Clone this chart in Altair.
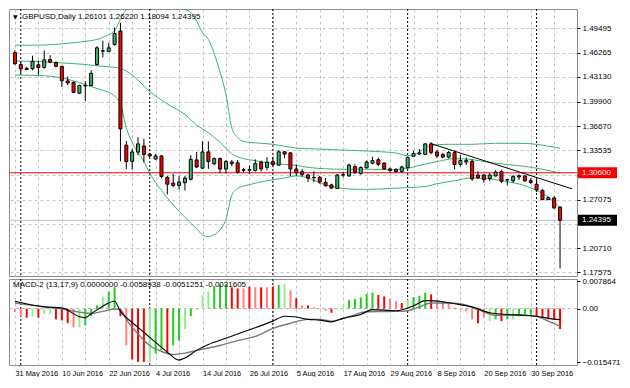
import json
import altair as alt
import pandas as pd

# ---------------- data ----------------
x_labels = ["31 May 2016", "10 Jun 2016", "22 Jun 2016", "4 Jul 2016", "14 Jul 2016",
            "26 Jul 2016", "5 Aug 2016", "17 Aug 2016", "29 Aug 2016", "8 Sep 2016",
            "20 Sep 2016", "30 Sep 2016"]
month_starts = [1, 23, 44, 67, 89]
price_ticks = [1.49495, 1.46265, 1.43130, 1.39900, 1.36670, 1.33535, 1.30305,
               1.27075, 1.23940, 1.20710, 1.17575]
hidden_ticks = [1.30305, 1.23940]

opens = [1.4630, 1.4475, 1.4425, 1.4420, 1.4472, 1.4435, 1.4540, 1.4500, 1.4450, 1.4260,
         1.4240, 1.4100, 1.4195, 1.4200, 1.4475, 1.4650, 1.4645, 1.4737, 1.4912, 1.3420,
         1.3210, 1.3330, 1.3410, 1.3303, 1.3240, 1.3280, 1.3000, 1.2925, 1.2895, 1.2930,
         1.2975, 1.3228, 1.3120, 1.3332, 1.3177, 1.3245, 1.3108, 1.3180, 1.3190, 1.3093,
         1.3100, 1.3090, 1.3196, 1.3130, 1.3205, 1.3160, 1.3335, 1.3320, 1.3110, 1.3075,
         1.3030, 1.3000, 1.3000, 1.2935, 1.2900, 1.2855, 1.3030, 1.3018, 1.3140, 1.3050,
         1.3125, 1.3185, 1.3230, 1.3185, 1.3110, 1.3100, 1.3075, 1.3125, 1.3275, 1.3305,
         1.3300, 1.3437, 1.3332, 1.3300, 1.3265, 1.3325, 1.3170, 1.3200, 1.3210, 1.3030,
         1.3030, 1.2985, 1.3018, 1.3075, 1.2965, 1.2955, 1.3005, 1.3018, 1.2955, 1.2910,
         1.2830, 1.2710, 1.2730, 1.26101]
highs = [1.4660, 1.4505, 1.4440, 1.4590, 1.4525, 1.4660, 1.4597, 1.4515, 1.4460, 1.4316,
         1.4255, 1.4212, 1.4255, 1.4400, 1.4714, 1.4786, 1.4760, 1.4957, 1.5020, 1.3475,
         1.3370, 1.3525, 1.3505, 1.3320, 1.3305, 1.3290, 1.3018, 1.3045, 1.3018, 1.3018,
         1.3290, 1.3332, 1.3470, 1.3470, 1.3260, 1.3260, 1.3227, 1.3227, 1.3227, 1.3125,
         1.3155, 1.3235, 1.3220, 1.3265, 1.3265, 1.3355, 1.3345, 1.3332, 1.3170, 1.3110,
         1.3045, 1.3080, 1.3018, 1.2990, 1.2918, 1.3045, 1.3070, 1.3180, 1.3170, 1.3143,
         1.3220, 1.3270, 1.3257, 1.3200, 1.3130, 1.3120, 1.3150, 1.3275, 1.3345, 1.3370,
         1.3450, 1.3460, 1.3360, 1.3320, 1.3345, 1.3345, 1.3290, 1.3260, 1.3235, 1.3081,
         1.3043, 1.3055, 1.3090, 1.3100, 1.2977, 1.3030, 1.3040, 1.3030, 1.2990, 1.2980,
         1.2845, 1.2750, 1.2755, 1.26220]
lows = [1.4470, 1.4360, 1.4400, 1.4400, 1.4337, 1.4420, 1.4492, 1.4440, 1.4180, 1.4205,
        1.4100, 1.4090, 1.4000, 1.4190, 1.4463, 1.4568, 1.4640, 1.4720, 1.3210, 1.3110,
        1.3100, 1.3290, 1.3195, 1.3265, 1.3230, 1.2990, 1.2777, 1.2870, 1.2840, 1.2830,
        1.2960, 1.3120, 1.3110, 1.3110, 1.3160, 1.3055, 1.3055, 1.3145, 1.3045, 1.3065,
        1.3045, 1.3075, 1.3075, 1.3093, 1.3150, 1.3150, 1.3250, 1.3018, 1.3018, 1.3015,
        1.2940, 1.2940, 1.2915, 1.2880, 1.2850, 1.2850, 1.3000, 1.3010, 1.3045, 1.3035,
        1.3115, 1.3170, 1.3150, 1.3100, 1.3065, 1.3060, 1.3060, 1.3115, 1.3265, 1.3295,
        1.3290, 1.3300, 1.3250, 1.3250, 1.3245, 1.3105, 1.3143, 1.3160, 1.2955, 1.2980,
        1.2930, 1.2950, 1.3010, 1.2925, 1.2900, 1.2930, 1.2965, 1.2940, 1.2915, 1.2810,
        1.2700, 1.2700, 1.2590, 1.18094]
closes = [1.4485, 1.4420, 1.4410, 1.4517, 1.4435, 1.4535, 1.4505, 1.4450, 1.4262, 1.4235,
          1.4110, 1.4200, 1.4202, 1.4360, 1.4693, 1.4655, 1.4693, 1.4880, 1.3634, 1.3206,
          1.3332, 1.3437, 1.3300, 1.3280, 1.3280, 1.3010, 1.2910, 1.2895, 1.2940, 1.2990,
          1.3235, 1.3135, 1.3332, 1.3206, 1.3245, 1.3108, 1.3206, 1.3200, 1.3065, 1.3100,
          1.3095, 1.3180, 1.3110, 1.3200, 1.3170, 1.3335, 1.3305, 1.3110, 1.3060, 1.3035,
          1.2990, 1.2995, 1.2940, 1.2890, 1.2860, 1.3030, 1.3035, 1.3160, 1.3065, 1.3130,
          1.3200, 1.3220, 1.3170, 1.3110, 1.3090, 1.3075, 1.3135, 1.3260, 1.3312, 1.3318,
          1.3437, 1.3325, 1.3280, 1.3265, 1.3325, 1.3168, 1.3220, 1.3220, 1.2980, 1.2995,
          1.2970, 1.3030, 1.3070, 1.2950, 1.2972, 1.3010, 1.3020, 1.2955, 1.2935, 1.2835,
          1.2710, 1.2735, 1.2600, 1.24395]

bb_upper_idx = [0, 3, 6, 9, 12, 14, 15, 16, 17, 18, 19, 20, 21, 22, 23, 24, 25, 26, 27, 28,
                29, 30, 31, 32, 33, 34, 35, 36, 37, 38, 39, 40, 42, 44, 46, 48, 52, 56, 60,
                63, 65, 67, 68, 69, 70, 71, 74, 78, 82, 86, 89, 91, 93]
bb_upper_val = [1.4727, 1.4727, 1.4733, 1.4752, 1.4777, 1.4802, 1.4828, 1.4865, 1.4916,
                1.5066, 1.5192, 1.5230, 1.5270, 1.5300, 1.5320, 1.5330, 1.5330, 1.5320,
                1.5300, 1.5217, 1.5192, 1.5154, 1.5041, 1.4890, 1.4802, 1.4614, 1.4375,
                1.4086, 1.3646, 1.3520, 1.3470, 1.3458, 1.3445, 1.3432, 1.3407, 1.3382,
                1.3370, 1.3357, 1.3345, 1.3332, 1.3319, 1.3282, 1.3294, 1.3332, 1.3382,
                1.3420, 1.3432, 1.3432, 1.3445, 1.3445, 1.3432, 1.3407, 1.3382]
bb_mid_idx = [0, 4, 8, 12, 15, 17, 18, 20, 23, 26, 29, 31, 33, 35, 37, 39, 41, 44, 46, 48,
              50, 53, 56, 60, 64, 67, 69, 72, 75, 78, 81, 84, 87, 90, 93]
bb_mid_val = [1.4520, 1.4514, 1.4495, 1.4475, 1.4451, 1.4438, 1.4425, 1.4337, 1.4123,
              1.3960, 1.3822, 1.3684, 1.3583, 1.3458, 1.3307, 1.3244, 1.3219, 1.3181,
              1.3169, 1.3156, 1.3131, 1.3112, 1.3106, 1.3106, 1.3100, 1.3118, 1.3156,
              1.3206, 1.3244, 1.3232, 1.3194, 1.3169, 1.3143, 1.3106, 1.3055]
bb_low_idx = [0, 4, 8, 11, 13, 15, 16, 17, 18, 19, 20, 22, 23, 25, 27, 29, 31, 32, 33, 34,
              35, 36, 37, 38, 40, 43, 46, 48, 50, 52, 54, 56, 60, 64, 67, 70, 72, 75, 78,
              81, 84, 87, 89, 91, 93]
bb_low_val = [1.4337, 1.4331, 1.4300, 1.4237, 1.4187, 1.4136, 1.4111, 1.4061, 1.3960,
              1.3646, 1.3458, 1.3206, 1.3055, 1.2829, 1.2641, 1.2478, 1.2327, 1.2251,
              1.2226, 1.2251, 1.2314, 1.2452, 1.2767, 1.2855, 1.2905, 1.2955, 1.2993,
              1.3018, 1.2993, 1.2930, 1.2880, 1.2855, 1.2842, 1.2855, 1.2867, 1.2880,
              1.2917, 1.2955, 1.2993, 1.2980, 1.2943, 1.2892, 1.2829, 1.2741, 1.2603]

trend_idx = [71, 95.04]
trend_val = [1.3440, 1.2850]
support_level = 1.30600
bid_price = 1.24395

macd_hist = [-0.0010, -0.0022, -0.0026, -0.0022, -0.0026, -0.0015, -0.0015, -0.0031, -0.0034, -0.0042,
             -0.0054, -0.0054, -0.0048, -0.0022, 0.0009, 0.0035, 0.0049, 0.0062, -0.0022, -0.0106,
             -0.0146, -0.0153, -0.0153, -0.0153, -0.0129, -0.0120, -0.0129, -0.0106, -0.0092, -0.0059,
             -0.0022, -0.0003, 0.0038, 0.0049, 0.0063, 0.0068, 0.0068, 0.0061, 0.0058, 0.0058,
             0.0063, 0.0061, 0.0061, 0.0061, 0.0063, 0.0068, 0.0070, 0.0052, 0.0030, 0.0009,
             0.0009, 0.0004, -0.0002, -0.0006, -0.0012, -0.0003, 0.0009, 0.0025, 0.0028, 0.0032,
             0.0042, 0.0046, 0.0039, 0.0035, 0.0028, 0.0021, 0.0016, 0.0025, 0.0033, 0.0037,
             0.0046, 0.0041, 0.0023, 0.0019, 0.0016, 0.0002, -0.0003, -0.0008, -0.0031, -0.0042,
             -0.0026, -0.0036, -0.0031, -0.0036, -0.0031, -0.0031, -0.0022, -0.0017, -0.0017, -0.0023,
             -0.0026, -0.0031, -0.0031, -0.0059]
hist_kind = ["r", "r", "R", "g", "R", "g", "g", "R", "R", "R",
             "r", "g", "G", "G", "G", "g", "G", "G", "R", "r",
             "R", "R", "R", "g", "G", "G", "R", "G", "G", "g",
             "G", "g", "g", "g", "G", "G", "G", "R", "R", "r",
             "R", "r", "R", "r", "R", "G", "g", "r", "R", "r",
             "R", "r", "r", "r", "R", "g", "g", "G", "G", "G",
             "G", "G", "R", "R", "r", "r", "R", "g", "G", "G",
             "G", "R", "r", "r", "r", "R", "r", "r", "r", "R",
             "r", "g", "G", "R", "G", "g", "G", "G", "G", "R",
             "R", "R", "R", "R"]
macd_main_idx = [0, 5, 8, 11, 12, 13, 15, 17, 18, 20, 22, 24, 26, 28, 29, 31, 33, 36, 40, 44,
                 46, 48, 50, 52, 54, 56, 59, 61, 65, 68, 70, 71, 75, 78, 81, 84, 87, 89, 91, 93]
macd_main_val = [0.0021, 0.0005, 0.0002, -0.0023, -0.0026, -0.0015, 0.0007, 0.0021, -0.0008,
                 -0.0040, -0.0068, -0.0097, -0.0125, -0.0148, -0.0142, -0.0120, -0.0103, -0.0085,
                 -0.0061, -0.0036, -0.0022, -0.0024, -0.0031, -0.0033, -0.0038, -0.0028, -0.0017,
                 -0.0003, -0.0006, 0.0008, 0.0023, 0.0023, 0.0014, 0.0005, -0.0012, -0.0017,
                 -0.0019, -0.0022, -0.0028, -0.0032]
macd_sig_idx = [0, 5, 8, 11, 13, 15, 17, 18, 19, 21, 23, 25, 27, 29, 31, 35, 38, 41, 44, 47,
                50, 52, 54, 57, 60, 65, 67, 69, 71, 74, 76, 79, 82, 86, 89, 91, 93]
macd_sig_val = [0.0016, 0.0005, -0.0001, -0.0010, -0.0014, -0.0008, -0.0001, -0.0003, -0.0031,
                -0.0073, -0.0106, -0.0123, -0.0132, -0.0128, -0.0120, -0.0106, -0.0092, -0.0080,
                -0.0057, -0.0042, -0.0031, -0.0031, -0.0036, -0.0023, -0.0009, -0.0008, -0.0006,
                0.0005, 0.0016, 0.0016, 0.0014, -0.0003, -0.0019, -0.0019, -0.0023, -0.0036,
                -0.0051]

title_text = "GBPUSD,Daily  1.26101 1.26220 1.18094 1.24395"
macd_text = "MACD-2 (13,17,9) 0.0000000 -0.0058938 -0.0051251 -0.0031605"

# ---------------- tables ----------------
n = len(opens)
candles = pd.DataFrame({"i": list(range(n)), "o": opens, "h": highs, "l": lows, "c": closes})
candles["kind"] = ["up" if c >= o else "down" for o, c in zip(opens, closes)]
bands = pd.concat([
    pd.DataFrame({"i": bb_upper_idx, "v": bb_upper_val, "band": "upper"}),
    pd.DataFrame({"i": bb_mid_idx, "v": bb_mid_val, "band": "mid"}),
    pd.DataFrame({"i": bb_low_idx, "v": bb_low_val, "band": "lower"}),
])
seps = pd.DataFrame({"i": month_starts})
trend = pd.DataFrame({"i": trend_idx, "v": trend_val})
hist = pd.DataFrame({"i": list(range(n)), "v": macd_hist, "k": hist_kind, "z": [0.0] * n})
main_line_df = pd.DataFrame({"i": macd_main_idx, "v": macd_main_val})
sig_line_df = pd.DataFrame({"i": macd_sig_idx, "v": macd_sig_val})

W, H1, H2 = 568, 267, 86
FONT = "Liberation Sans"
px_per_price = H1 / (1.5200 - 1.1711)
half_box = 5.5 / px_per_price
boxes = pd.DataFrame({
    "p": [support_level, bid_price],
    "lo": [support_level - half_box, bid_price - half_box],
    "hi": [support_level + half_box, bid_price + half_box],
    "txt": ["1.30600", "1.24395"],
    "fill": ["#ff0000", "#000000"],
})

# ---------------- scales / axes ----------------
xs = alt.Scale(domain=[-0.16, 95.04], nice=False, zero=False)
ys = alt.Scale(domain=[1.1711, 1.5200], nice=False, zero=False)
ms = alt.Scale(domain=[-0.0162, 0.0085], nice=False, zero=False)

grid_vals = list(range(0, 95, 4))
x_axis_main = alt.Axis(values=grid_vals, grid=True, gridDash=[3, 3], gridColor="#c4c4c4",
                       labels=False, ticks=False, domain=False, title=None)
label_js = json.dumps(x_labels)
x_axis_macd = alt.Axis(values=grid_vals, grid=True, gridDash=[3, 3], gridColor="#c4c4c4",
                       labelExpr=f"datum.value % 8 == 0 ? {label_js}[datum.value / 8] : ''",
                       labelAlign="left", labelFlush=False, labelOverlap=False,
                       labelFont=FONT, labelFontSize=7.4, labelColor="#000000", labelPadding=4,
                       ticks=False, domain=False, title=None)
hidden_js = " || ".join(f"abs(datum.value - {h}) < 0.00001" for h in hidden_ticks)
y_axis_main = alt.Axis(orient="right", values=price_ticks, grid=True,
                       labelExpr=f"({hidden_js}) ? '' : format(datum.value, '.5f')",
                       gridDash=[3, 3], gridColor="#c4c4c4", labelFont=FONT, labelFontSize=8,
                       labelColor="#000000", tickSize=3, tickColor="#000000", labelPadding=2,
                       domain=False, title=None, labelOverlap=False)
y_axis_macd = alt.Axis(orient="right", values=[0.007864, 0.0, -0.015471],
                       labelExpr="datum.value == 0 ? '0.00' : format(datum.value, '.6f')",
                       grid=False, labelFont=FONT, labelFontSize=8, labelColor="#000000",
                       tickSize=3, tickColor="#000000", labelPadding=2, domain=False,
                       title=None, labelOverlap=False)


def xm(f):
    return alt.X(f, type="quantitative", scale=xs, axis=x_axis_main)


def ym(f):
    return alt.Y(f, type="quantitative", scale=ys, axis=y_axis_main)


def xd(f):
    return alt.X(f, type="quantitative", scale=xs, axis=x_axis_macd)


def yd(f):
    return alt.Y(f, type="quantitative", scale=ms, axis=y_axis_macd)


# ---------------- main price panel ----------------
sep_main = alt.Chart(seps).mark_rule(color="#000000", strokeDash=[2, 2], strokeWidth=1).encode(
    x=xm("i"))
band_lines = alt.Chart(bands).mark_line(color="#3cb371", strokeWidth=1, clip=True,
                                        interpolate="monotone").encode(
    x=xm("i"), y=ym("v"), detail="band:N")
bid_line = alt.Chart(pd.DataFrame({"p": [bid_price]})).mark_rule(color="#c0c0c0", strokeWidth=1).encode(
    y=ym("p"))
sup_line = alt.Chart(pd.DataFrame({"p": [support_level]})).mark_rule(color="#ff0000", strokeWidth=1).encode(
    y=ym("p"))
trend_line = alt.Chart(trend).mark_line(color="#000000", strokeWidth=1, clip=True).encode(
    x=xm("i"), y=ym("v"))
wicks = alt.Chart(candles).mark_rule(color="#000000", strokeWidth=1).encode(
    x=xm("i"), y=ym("l"), y2="h")
bodies = alt.Chart(candles).mark_bar(size=3, stroke="#000000", strokeWidth=1).encode(
    x=xm("i"), y=ym("o"), y2="c",
    fill=alt.Fill("kind:N", scale=alt.Scale(domain=["up", "down"], range=["#3cb371", "#ff0000"]),
                  legend=None))
box_rect = alt.Chart(boxes).mark_rect(clip=False).encode(
    x=alt.value(W + 1), x2=alt.value(W + 40), y=ym("lo"), y2="hi",
    fill=alt.Fill("fill:N", scale=None))
box_text = alt.Chart(boxes).mark_text(align="left", baseline="middle", color="#ffffff",
                                      font=FONT, fontSize=8).encode(
    x=alt.value(W + 5), y=ym("p"), text="txt:N")
title_mark = alt.Chart(pd.DataFrame({"t": [title_text]})).mark_text(
    align="left", baseline="middle", font=FONT, fontSize=8, color="#000000").encode(
    x=alt.value(13), y=alt.value(8), text="t:N")
tri_mark = alt.Chart(pd.DataFrame({"t": ["▼"]})).mark_text(
    align="left", baseline="middle", font="DejaVu Sans", fontSize=6, color="#000000").encode(
    x=alt.value(4), y=alt.value(8), text="t:N")

main = alt.layer(sep_main, band_lines, bid_line, sup_line, trend_line, wicks, bodies,
                 box_rect, box_text, title_mark, tri_mark).properties(width=W, height=H1)

# ---------------- MACD panel ----------------
sep_macd = alt.Chart(seps).mark_rule(color="#000000", strokeDash=[2, 2], strokeWidth=1).encode(
    x=xd("i"))
zero_line = alt.Chart(pd.DataFrame({"z": [0.0]})).mark_rule(
    color="#b4b4b4", strokeDash=[3, 3], strokeWidth=1).encode(y=yd("z"))
hist_bars = alt.Chart(hist).mark_bar(size=2).encode(
    x=xd("i"), y=yd("z"), y2="v",
    fill=alt.Fill("k:N", scale=alt.Scale(domain=["G", "g", "R", "r"],
                                        range=["#22cc22", "#90ee90", "#ff0000", "#ff8080"]),
                  legend=None))
main_line = alt.Chart(main_line_df).mark_line(color="#000000", strokeWidth=1.1,
                                              interpolate="monotone").encode(
    x=xd("i"), y=yd("v"))
sig_line = alt.Chart(sig_line_df).mark_line(color="#7a7a7a", strokeWidth=1.4,
                                            interpolate="monotone").encode(
    x=xd("i"), y=yd("v"))
macd_title = alt.Chart(pd.DataFrame({"t": [macd_text]})).mark_text(
    align="left", baseline="middle", font=FONT, fontSize=8, color="#000000").encode(
    x=alt.value(4), y=alt.value(6), text="t:N")

macd = alt.layer(sep_macd, zero_line, hist_bars, sig_line, main_line, macd_title).properties(
    width=W, height=H2)

chart = alt.vconcat(main, macd, spacing=3, bounds="flush").properties(
    padding=0, background="#ffffff"
).configure_view(stroke="#8c8c8c", strokeWidth=1).resolve_scale(fill="independent")

chart.save("out.html", embed_options={"renderer": "svg", "actions": False})
